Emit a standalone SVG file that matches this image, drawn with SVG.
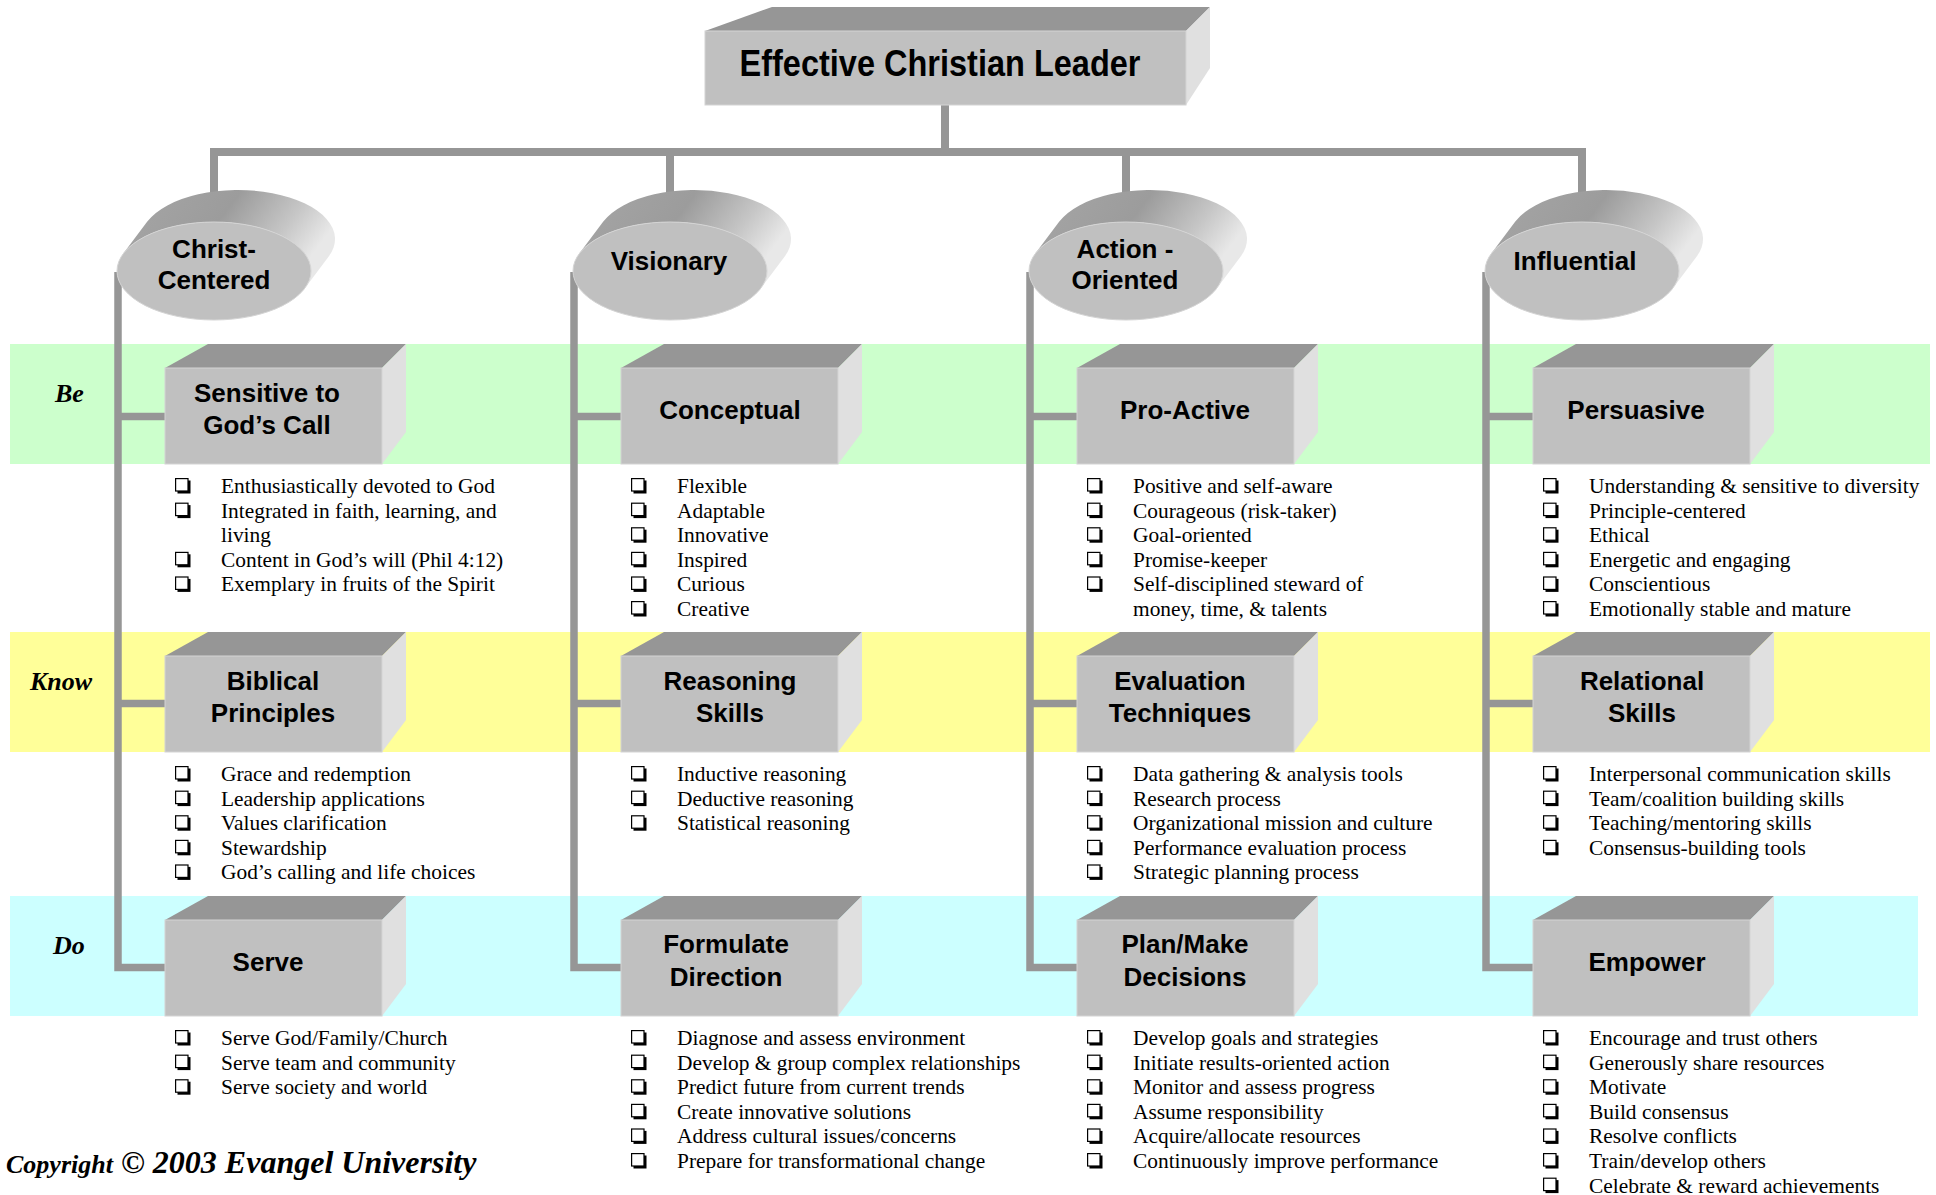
<svg xmlns="http://www.w3.org/2000/svg" xmlns:xlink="http://www.w3.org/1999/xlink" width="1936" height="1195" viewBox="0 0 1936 1195">
<style>
.bx{font-family:"Liberation Sans",Arial,sans-serif;font-weight:bold;font-size:26px;fill:#000;text-anchor:middle}
.ttl{font-family:"Liberation Sans",Arial,sans-serif;font-weight:bold;font-size:32.5px;fill:#000;text-anchor:middle}
.ls{font-family:"Liberation Serif","Times New Roman",serif;font-size:21.4px;fill:#000}
.row{font-family:"Liberation Serif","Times New Roman",serif;font-weight:bold;font-style:italic;font-size:26px;fill:#000}
.cp{font-family:"Liberation Serif","Times New Roman",serif;font-weight:bold;font-style:italic;font-size:32px;fill:#000}
.cps{font-size:26px}
.ft{fill:#c0c0c0;stroke:#d4d4d4;stroke-width:1}
.tp{fill:#969696}
.rt{fill:#e0e0e0}
</style>
<defs>
<linearGradient id="tube" x1="0" y1="0" x2="1" y2="0.35">
<stop offset="0" stop-color="#a6a6a6"/>
<stop offset="0.5" stop-color="#9c9c9c"/>
<stop offset="0.8" stop-color="#c6c6c6"/>
<stop offset="1" stop-color="#e8e8e8"/>
</linearGradient>
<g id="box">
<polygon class="tp" points="0,0 217,0 241,-24 43,-24"/>
<polygon class="rt" points="217,0 241,-24 241,64 217,96"/>
<rect class="ft" x="0" y="0" width="217" height="96"/>
</g>
<g id="cyl">
<path fill="url(#tube)" d="M-90.7,-17.4 L-66.7,-49.4 A97,49 0 0 1 114.7,-14.6 L90.7,17.4 A97,49 0 0 0 -90.7,-17.4 Z"/>
<ellipse cx="0" cy="0" rx="97" ry="49" fill="#c0c0c0" stroke="#d4d4d4" stroke-width="1"/>
</g>
<g id="bul">
<rect x="2.5" y="2.5" width="13" height="13" fill="#000"/>
<rect x="0.6" y="0.6" width="12.4" height="12.4" fill="#fff" stroke="#000" stroke-width="1.2"/>
</g>
</defs>

<g id="bands">
<rect x="10" y="344" width="1920" height="120" fill="#ccffcc"/>
<rect x="10" y="632" width="1920" height="120" fill="#ffff99"/>
<rect x="10" y="896" width="1908" height="120" fill="#ccffff"/>
<text class="row" x="55" y="402">Be</text>
<text class="row" x="30" y="690">Know</text>
<text class="row" x="53" y="954">Do</text>
</g>

<g id="connectors" fill="none" stroke="#969696" stroke-linejoin="miter">
<path stroke-width="8" d="M945,105 V152 M214,205 V152 H1582 V205 M670,152 V205 M1126,152 V205"/>
<path stroke-width="7.5" d="M118,272 V967.5 H165 M118,416.5 H165 M118,703.5 H165"/>
<path stroke-width="7.5" d="M574,272 V967.5 H621 M574,416.5 H621 M574,703.5 H621"/>
<path stroke-width="7.5" d="M1030,272 V967.5 H1077 M1030,416.5 H1077 M1030,703.5 H1077"/>
<path stroke-width="7.5" d="M1486,272 V967.5 H1533 M1486,416.5 H1533 M1486,703.5 H1533"/>
</g>

<g id="n-leader">
<polygon class="tp" points="705,31 1186,31 1210,7 772,7"/>
<polygon class="rt" points="1186,31 1210,7 1210,68 1186,105"/>
<rect class="ft" x="705" y="31" width="481" height="74"/>
<text class="ttl" transform="translate(940,76) scale(1,1.12)">Effective Christian Leader</text>
</g>

<g id="n-christ">
<use xlink:href="#cyl" x="214" y="271"/>
<text class="bx" x="214" y="258">Christ-</text>
<text class="bx" x="214" y="289">Centered</text>
</g>
<g id="n-visionary">
<use xlink:href="#cyl" x="670" y="271"/>
<text class="bx" x="669" y="270">Visionary</text>
</g>
<g id="n-action">
<use xlink:href="#cyl" x="1126" y="271"/>
<text class="bx" x="1125" y="258">Action -</text>
<text class="bx" x="1125" y="289">Oriented</text>
</g>
<g id="n-influential">
<use xlink:href="#cyl" x="1582" y="271"/>
<text class="bx" x="1575" y="270">Influential</text>
</g>

<g id="n-sensitive">
<use xlink:href="#box" x="165" y="368"/>
<text class="bx" x="267" y="402">Sensitive to</text>
<text class="bx" x="267" y="434">God’s Call</text>
</g>
<g id="n-conceptual">
<use xlink:href="#box" x="621" y="368"/>
<text class="bx" x="730" y="419">Conceptual</text>
</g>
<g id="n-proactive">
<use xlink:href="#box" x="1077" y="368"/>
<text class="bx" x="1185" y="419">Pro-Active</text>
</g>
<g id="n-persuasive">
<use xlink:href="#box" x="1533" y="368"/>
<text class="bx" x="1636" y="419">Persuasive</text>
</g>

<g id="n-biblical">
<use xlink:href="#box" x="165" y="656"/>
<text class="bx" x="273" y="690">Biblical</text>
<text class="bx" x="273" y="722">Principles</text>
</g>
<g id="n-reasoning">
<use xlink:href="#box" x="621" y="656"/>
<text class="bx" x="730" y="690">Reasoning</text>
<text class="bx" x="730" y="722">Skills</text>
</g>
<g id="n-evaluation">
<use xlink:href="#box" x="1077" y="656"/>
<text class="bx" x="1180" y="690">Evaluation</text>
<text class="bx" x="1180" y="722">Techniques</text>
</g>
<g id="n-relational">
<use xlink:href="#box" x="1533" y="656"/>
<text class="bx" x="1642" y="690">Relational</text>
<text class="bx" x="1642" y="722">Skills</text>
</g>

<g id="n-serve">
<use xlink:href="#box" x="165" y="920"/>
<text class="bx" x="268" y="971">Serve</text>
</g>
<g id="n-formulate">
<use xlink:href="#box" x="621" y="920"/>
<text class="bx" x="726" y="953">Formulate</text>
<text class="bx" x="726" y="986">Direction</text>
</g>
<g id="n-plan">
<use xlink:href="#box" x="1077" y="920"/>
<text class="bx" x="1185" y="953">Plan/Make</text>
<text class="bx" x="1185" y="986">Decisions</text>
</g>
<g id="n-empower">
<use xlink:href="#box" x="1533" y="920"/>
<text class="bx" x="1647" y="971">Empower</text>
</g>

<g id="lists-be">
<use xlink:href="#bul" x="175" y="478"/><use xlink:href="#bul" x="175" y="502.6"/><use xlink:href="#bul" x="175" y="551.8"/><use xlink:href="#bul" x="175" y="576.4"/>
<text class="ls"><tspan x="221" y="493">Enthusiastically devoted to God</tspan><tspan x="221" y="517.6">Integrated in faith, learning, and</tspan><tspan x="221" y="542.2">living</tspan><tspan x="221" y="566.8">Content in God’s will (Phil 4:12)</tspan><tspan x="221" y="591.4">Exemplary in fruits of the Spirit</tspan></text>

<use xlink:href="#bul" x="631" y="478"/><use xlink:href="#bul" x="631" y="502.6"/><use xlink:href="#bul" x="631" y="527.2"/><use xlink:href="#bul" x="631" y="551.8"/><use xlink:href="#bul" x="631" y="576.4"/><use xlink:href="#bul" x="631" y="601"/>
<text class="ls"><tspan x="677" y="493">Flexible</tspan><tspan x="677" y="517.6">Adaptable</tspan><tspan x="677" y="542.2">Innovative</tspan><tspan x="677" y="566.8">Inspired</tspan><tspan x="677" y="591.4">Curious</tspan><tspan x="677" y="616">Creative</tspan></text>

<use xlink:href="#bul" x="1087" y="478"/><use xlink:href="#bul" x="1087" y="502.6"/><use xlink:href="#bul" x="1087" y="527.2"/><use xlink:href="#bul" x="1087" y="551.8"/><use xlink:href="#bul" x="1087" y="576.4"/>
<text class="ls"><tspan x="1133" y="493">Positive and self-aware</tspan><tspan x="1133" y="517.6">Courageous (risk-taker)</tspan><tspan x="1133" y="542.2">Goal-oriented</tspan><tspan x="1133" y="566.8">Promise-keeper</tspan><tspan x="1133" y="591.4">Self-disciplined steward of</tspan><tspan x="1133" y="616">money, time, &amp; talents</tspan></text>

<use xlink:href="#bul" x="1543" y="478"/><use xlink:href="#bul" x="1543" y="502.6"/><use xlink:href="#bul" x="1543" y="527.2"/><use xlink:href="#bul" x="1543" y="551.8"/><use xlink:href="#bul" x="1543" y="576.4"/><use xlink:href="#bul" x="1543" y="601"/>
<text class="ls"><tspan x="1589" y="493">Understanding &amp; sensitive to diversity</tspan><tspan x="1589" y="517.6">Principle-centered</tspan><tspan x="1589" y="542.2">Ethical</tspan><tspan x="1589" y="566.8">Energetic and engaging</tspan><tspan x="1589" y="591.4">Conscientious</tspan><tspan x="1589" y="616">Emotionally stable and mature</tspan></text>
</g>

<g id="lists-know">
<use xlink:href="#bul" x="175" y="766"/><use xlink:href="#bul" x="175" y="790.6"/><use xlink:href="#bul" x="175" y="815.2"/><use xlink:href="#bul" x="175" y="839.8"/><use xlink:href="#bul" x="175" y="864.4"/>
<text class="ls"><tspan x="221" y="781">Grace and redemption</tspan><tspan x="221" y="805.6">Leadership applications</tspan><tspan x="221" y="830.2">Values clarification</tspan><tspan x="221" y="854.8">Stewardship</tspan><tspan x="221" y="879.4">God’s calling and life choices</tspan></text>

<use xlink:href="#bul" x="631" y="766"/><use xlink:href="#bul" x="631" y="790.6"/><use xlink:href="#bul" x="631" y="815.2"/>
<text class="ls"><tspan x="677" y="781">Inductive reasoning</tspan><tspan x="677" y="805.6">Deductive reasoning</tspan><tspan x="677" y="830.2">Statistical reasoning</tspan></text>

<use xlink:href="#bul" x="1087" y="766"/><use xlink:href="#bul" x="1087" y="790.6"/><use xlink:href="#bul" x="1087" y="815.2"/><use xlink:href="#bul" x="1087" y="839.8"/><use xlink:href="#bul" x="1087" y="864.4"/>
<text class="ls"><tspan x="1133" y="781">Data gathering &amp; analysis tools</tspan><tspan x="1133" y="805.6">Research process</tspan><tspan x="1133" y="830.2">Organizational mission and culture</tspan><tspan x="1133" y="854.8">Performance evaluation process</tspan><tspan x="1133" y="879.4">Strategic planning process</tspan></text>

<use xlink:href="#bul" x="1543" y="766"/><use xlink:href="#bul" x="1543" y="790.6"/><use xlink:href="#bul" x="1543" y="815.2"/><use xlink:href="#bul" x="1543" y="839.8"/>
<text class="ls"><tspan x="1589" y="781">Interpersonal communication skills</tspan><tspan x="1589" y="805.6">Team/coalition building skills</tspan><tspan x="1589" y="830.2">Teaching/mentoring skills</tspan><tspan x="1589" y="854.8">Consensus-building tools</tspan></text>
</g>

<g id="lists-do">
<use xlink:href="#bul" x="175" y="1030"/><use xlink:href="#bul" x="175" y="1054.6"/><use xlink:href="#bul" x="175" y="1079.2"/>
<text class="ls"><tspan x="221" y="1045">Serve God/Family/Church</tspan><tspan x="221" y="1069.6">Serve team and community</tspan><tspan x="221" y="1094.2">Serve society and world</tspan></text>

<use xlink:href="#bul" x="631" y="1030"/><use xlink:href="#bul" x="631" y="1054.6"/><use xlink:href="#bul" x="631" y="1079.2"/><use xlink:href="#bul" x="631" y="1103.8"/><use xlink:href="#bul" x="631" y="1128.4"/><use xlink:href="#bul" x="631" y="1153"/>
<text class="ls"><tspan x="677" y="1045">Diagnose and assess environment</tspan><tspan x="677" y="1069.6">Develop &amp; group complex relationships</tspan><tspan x="677" y="1094.2">Predict future from current trends</tspan><tspan x="677" y="1118.8">Create innovative solutions</tspan><tspan x="677" y="1143.4">Address cultural issues/concerns</tspan><tspan x="677" y="1168">Prepare for transformational change</tspan></text>

<use xlink:href="#bul" x="1087" y="1030"/><use xlink:href="#bul" x="1087" y="1054.6"/><use xlink:href="#bul" x="1087" y="1079.2"/><use xlink:href="#bul" x="1087" y="1103.8"/><use xlink:href="#bul" x="1087" y="1128.4"/><use xlink:href="#bul" x="1087" y="1153"/>
<text class="ls"><tspan x="1133" y="1045">Develop goals and strategies</tspan><tspan x="1133" y="1069.6">Initiate results-oriented action</tspan><tspan x="1133" y="1094.2">Monitor and assess progress</tspan><tspan x="1133" y="1118.8">Assume responsibility</tspan><tspan x="1133" y="1143.4">Acquire/allocate resources</tspan><tspan x="1133" y="1168">Continuously improve performance</tspan></text>

<use xlink:href="#bul" x="1543" y="1030"/><use xlink:href="#bul" x="1543" y="1054.6"/><use xlink:href="#bul" x="1543" y="1079.2"/><use xlink:href="#bul" x="1543" y="1103.8"/><use xlink:href="#bul" x="1543" y="1128.4"/><use xlink:href="#bul" x="1543" y="1153"/><use xlink:href="#bul" x="1543" y="1177.6"/>
<text class="ls"><tspan x="1589" y="1045">Encourage and trust others</tspan><tspan x="1589" y="1069.6">Generously share resources</tspan><tspan x="1589" y="1094.2">Motivate</tspan><tspan x="1589" y="1118.8">Build consensus</tspan><tspan x="1589" y="1143.4">Resolve conflicts</tspan><tspan x="1589" y="1168">Train/develop others</tspan><tspan x="1589" y="1192.6">Celebrate &amp; reward achievements</tspan></text>
</g>

<text class="cp" x="6" y="1173"><tspan class="cps">Copyright</tspan> © 2003 Evangel University</text>
</svg>
